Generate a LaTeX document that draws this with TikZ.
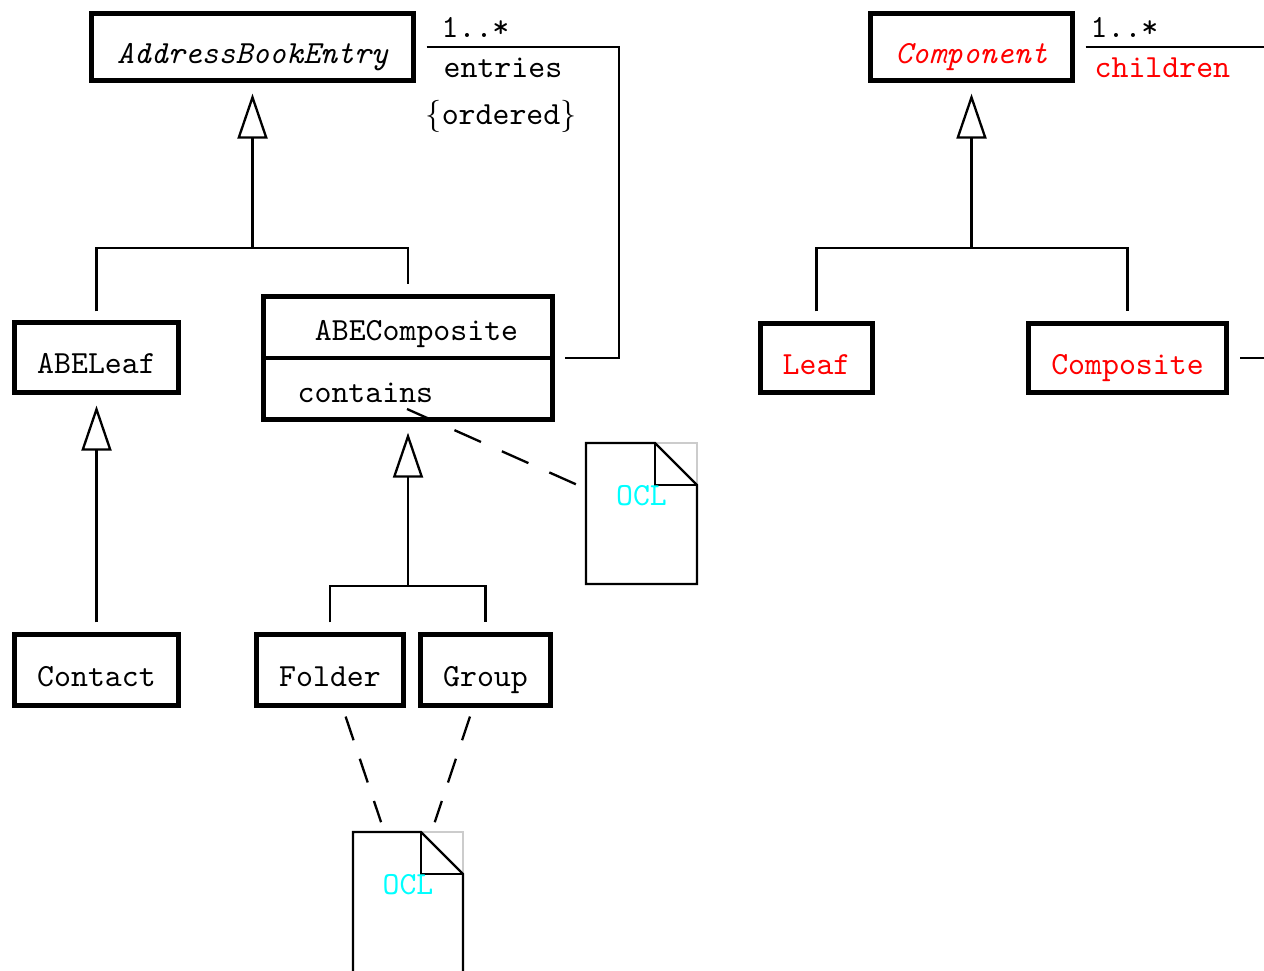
\documentclass[tikz,border=0pt]{standalone}
\usetikzlibrary{arrows.meta,calc}
% one drawing unit = 0.31pt, y grows downwards
\def\pxl{0.31pt}
\definecolor{oclcyan}{RGB}{0,255,255}
\definecolor{patred}{RGB}{255,0,0}
\begin{document}
\begin{tikzpicture}[x=0.31pt,y=-0.31pt,font=\ttfamily]
\tikzset{
  cls/.style={draw, line width=1.35pt, inner sep=0pt, text height=10pt, text depth=0pt},
  tx/.style={inner sep=0pt, anchor=base west},
  txc/.style={inner sep=0pt, anchor=base},
  conn/.style={line width=0.72pt},
  gen/.style={conn, -{Triangle[open, length=13.95pt, width=9.3pt]}},
  depa/.style={conn, dash pattern=on 9pt off 7.1pt},
  depb/.style={conn, dash pattern=on 7.75pt off 6.05pt},
  notebox/.style={inner sep=0pt, outer sep=0pt},
  ocltext/.style={inner sep=0pt, anchor=base, text=oclcyan},
}
\newcommand\drawnote[1]{%
  \draw[gray!40, line width=0.35pt] ($(#1.north east)+(-42,0)$) -- (#1.north east) -- ($(#1.north east)+(0,42)$);
  \draw[conn, line join=miter] (#1.north west) -- ($(#1.north east)+(-42,0)$) -- ($(#1.north east)+(0,42)$)
     -- (#1.south east) -- (#1.south west) -- cycle;
  \draw[conn] ($(#1.north east)+(-42,0)$) -- ++(0,42) -- ($(#1.north east)+(0,42)$);
}
\useasboundingbox (0,0) rectangle (1264,971);
\clip (0,0) rectangle (1264,971);

% ---------- address book hierarchy ----------
\node[cls, minimum width=322*\pxl, minimum height=67*\pxl, font=\ttfamily\itshape] (abe) at (252.5,47) {AddressBookEntry};
\node[cls, minimum width=164*\pxl, minimum height=70*\pxl] (abeleaf) at (96.5,357.5) {ABELeaf};
\node[cls, minimum width=289*\pxl, minimum height=123*\pxl] (abecomp) at (408,358) {};
\draw[line width=1.35pt] (abecomp.west) -- (abecomp.east);
\node[txc] (abecompname) at (416.5,341) {ABEComposite};
\node[tx] (contains) at (297,403) {contains};
\node[cls, minimum width=164*\pxl, minimum height=71*\pxl] (contact) at (96.5,670) {Contact};
\node[cls, minimum width=147*\pxl, minimum height=71*\pxl] (folder) at (330,670) {Folder};
\node[cls, minimum width=130*\pxl, minimum height=71*\pxl] (group) at (485.5,670) {Group};

% generalisations
\coordinate (j1) at (252.5,248);
\draw[gen, shorten >=3.41pt] (j1) -- (abe);
\draw[conn, shorten <=2.79pt, shorten >=3.1pt] (abeleaf) |- (j1) -| (abecomp);
\draw[gen, shorten <=3.1pt, shorten >=3.41pt] (contact) -- (abeleaf);
\coordinate (j2) at (408,586);
\draw[gen, shorten >=3.41pt] (j2) -- (abecomp);
\draw[conn, shorten <=3.1pt, shorten >=3.1pt] (folder) |- (j2) -| (group);

% association entries
\coordinate (abeloop) at (619,358);
\draw[conn, shorten <=3.41pt, shorten >=3.1pt] (abe) -| (abeloop) -- (abecomp);
\node[tx] (mult1) at (441,38) {1..*};
\node[tx] (role1) at (443,78) {entries};
\node[tx] (ordered) at (425,125) {$\{$ordered$\}$};

% constraint notes
\node[notebox, minimum width=111*\pxl, minimum height=141*\pxl] (ocl1) at (641.5,513.5) {};
\drawnote{ocl1}
\node[ocltext] (ocl1t) at ($(ocl1.north)+(0,62)$) {OCL};
\coordinate (c1) at (407,409);
\draw[depa, shorten >=3.0pt] (c1) -- (ocl1);

\node[notebox, minimum width=110*\pxl, minimum height=141*\pxl] (ocl2) at (408,902.5) {};
\drawnote{ocl2}
\node[ocltext] (ocl2t) at ($(ocl2.north)+(0,62)$) {OCL};
\draw[depb, shorten <=2.9pt, shorten >=3.2pt] (folder) -- (ocl2);
\draw[depb, shorten <=2.9pt, shorten >=3.2pt] (group) -- (ocl2);

% ---------- composite pattern ----------
\node[cls, minimum width=202*\pxl, minimum height=67*\pxl, font=\ttfamily\itshape, text=patred] (component) at (971.5,47) {Component};
\node[cls, minimum width=112*\pxl, minimum height=69*\pxl, text=patred] (leaf) at (816.5,358) {Leaf};
\node[cls, minimum width=198*\pxl, minimum height=69*\pxl, text=patred] (composite) at (1127.5,358) {Composite};
\coordinate (j3) at (971.5,248);
\draw[gen, shorten >=3.41pt] (j3) -- (component);
\draw[conn, shorten <=3.1pt, shorten >=3.1pt] (leaf) |- (j3) -| (composite);
\coordinate (cloop) at (1320,358);
\draw[conn, shorten <=3.41pt, shorten >=3.41pt] (component) -| (cloop) -- (composite);
\node[tx] (mult2) at (1090,38) {1..*};
\node[tx, text=patred] (role2) at (1094,78) {children};
\end{tikzpicture}
\end{document}
